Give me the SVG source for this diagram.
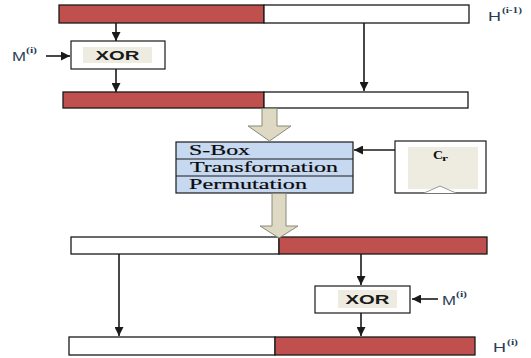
<svg xmlns="http://www.w3.org/2000/svg" width="531" height="358" viewBox="0 0 531 358">
  <defs>
    <style>
      .bar-red { fill: #c0504d; stroke: #1a1a1a; stroke-width: 1.3; }
      .bar-white { fill: #ffffff; stroke: #1a1a1a; stroke-width: 1.3; }
      .box { fill: #ffffff; stroke: #1a1a1a; stroke-width: 1.2; }
      .pad { fill: #eeece1; stroke: none; }
      .wire { stroke: #1a1a1a; stroke-width: 1.6; fill: none; marker-end: url(#tip); }
      .fat { fill: #ddd9c3; stroke: #8a8a78; stroke-width: 1; }
      .xor { font-family: "Liberation Sans", Arial, sans-serif; font-weight: bold; font-size: 13px; fill: #1a1a1a; text-anchor: middle; }
      .stage { font-family: "Liberation Serif", "Times New Roman", serif; font-size: 15px; fill: #0a0a0a; stroke: #0a0a0a; stroke-width: 0.2; }
      .lbl { font-family: "Liberation Sans", Arial, sans-serif; font-size: 12px; fill: #2a3d55; }
      .sup { font-family: "Liberation Serif", "Times New Roman", serif; font-weight: bold; font-size: 8px; fill: #2a3d55; }
    </style>
    <marker id="tip" viewBox="0 0 10 10" refX="10" refY="5" markerWidth="9" markerHeight="9" markerUnits="userSpaceOnUse" orient="auto">
      <path d="M0,0 L10,5 L0,10 z" fill="#1a1a1a"/>
    </marker>
  </defs>

  <!-- state words -->
  <g id="state-in">
    <rect class="bar-red" x="59" y="5" width="205" height="18"/>
    <rect class="bar-white" x="264" y="5" width="205" height="18"/>
  </g>
  <g id="label-h-prev">
    <text class="lbl" x="488" y="21" textLength="13" lengthAdjust="spacingAndGlyphs">H</text>
    <text class="sup" x="502" y="13" textLength="20" lengthAdjust="spacingAndGlyphs">(i-1)</text>
  </g>

  <g id="xor-top">
    <rect class="box" x="71" y="41" width="94" height="28"/>
    <rect class="pad" x="83" y="47" width="69" height="16"/>
    <text class="xor" x="117.5" y="60" textLength="44" lengthAdjust="spacingAndGlyphs">XOR</text>
  </g>
  <g id="label-m-top">
    <text class="lbl" x="12" y="61" textLength="14" lengthAdjust="spacingAndGlyphs">M</text>
    <text class="sup" x="26" y="53" textLength="11" lengthAdjust="spacingAndGlyphs">(i)</text>
  </g>

  <g id="state-mid">
    <rect class="bar-red" x="63" y="92" width="201" height="16"/>
    <rect class="bar-white" x="264" y="92" width="204" height="16"/>
  </g>

  <g id="round-function">
    <rect x="176" y="142" width="177" height="51" fill="#c6d9f1" stroke="#1a1a1a" stroke-width="1.2"/>
    <line x1="176" y1="159" x2="353" y2="159" stroke="#1a1a1a" stroke-width="1.2"/>
    <line x1="176" y1="176" x2="353" y2="176" stroke="#1a1a1a" stroke-width="1.2"/>
    <text class="stage" x="189" y="155" textLength="61" lengthAdjust="spacingAndGlyphs">S-Box</text>
    <text class="stage" x="190" y="172" textLength="148" lengthAdjust="spacingAndGlyphs">Transformation</text>
    <text class="stage" x="189" y="189" textLength="118" lengthAdjust="spacingAndGlyphs">Permutation</text>
  </g>

  <g id="round-constant">
    <rect class="box" x="395" y="141" width="91" height="52"/>
    <rect class="pad" x="408" y="147" width="70" height="42"/>
    <text x="433" y="159" font-family="Liberation Serif, Times New Roman, serif" font-weight="bold" font-size="13px" fill="#111111" textLength="10" lengthAdjust="spacingAndGlyphs">C</text>
    <text x="442" y="161" font-family="Liberation Serif, Times New Roman, serif" font-weight="bold" font-size="9px" fill="#111111" textLength="6" lengthAdjust="spacingAndGlyphs">r</text>
    <path d="M424,193 L440,186 L456,193" fill="#ffffff" stroke="#9a9a9a" stroke-width="1"/>
  </g>

  <g id="state-swapped">
    <rect class="bar-white" x="71" y="237" width="208" height="17"/>
    <rect class="bar-red" x="279" y="237" width="208" height="17"/>
  </g>

  <g id="xor-bottom">
    <rect class="box" x="315" y="286" width="95" height="27"/>
    <rect class="pad" x="338" y="290" width="59" height="18"/>
    <text class="xor" x="367.5" y="304" textLength="44" lengthAdjust="spacingAndGlyphs">XOR</text>
  </g>
  <g id="label-m-bottom">
    <text class="lbl" x="442" y="305" textLength="14" lengthAdjust="spacingAndGlyphs">M</text>
    <text class="sup" x="456" y="297" textLength="11" lengthAdjust="spacingAndGlyphs">(i)</text>
  </g>

  <g id="state-out">
    <rect class="bar-white" x="69" y="337" width="206" height="18"/>
    <rect class="bar-red" x="275" y="337" width="200" height="18"/>
  </g>
  <g id="label-h">
    <text class="lbl" x="493" y="352" textLength="13" lengthAdjust="spacingAndGlyphs">H</text>
    <text class="sup" x="507" y="345" textLength="11" lengthAdjust="spacingAndGlyphs">(i)</text>
  </g>

  <!-- connectors -->
  <g id="connectors">
    <line class="wire" x1="116" y1="23" x2="116" y2="41"/>
    <line class="wire" x1="46" y1="56" x2="70" y2="56"/>
    <line class="wire" x1="116" y1="69" x2="116" y2="92"/>
    <line class="wire" x1="364" y1="23" x2="364" y2="91"/>
    <line class="wire" x1="395" y1="150" x2="354" y2="150"/>
    <line class="wire" x1="119" y1="254" x2="119" y2="336"/>
    <line class="wire" x1="361" y1="254" x2="361" y2="285"/>
    <line class="wire" x1="438" y1="299" x2="412" y2="299"/>
    <line class="wire" x1="361" y1="313" x2="361" y2="336"/>
    <!-- hollow block arrows into and out of the round function -->
    <polygon class="fat" points="262,108.5 277,108.5 277,126 291,126 269.5,141 248,126 262,126"/>
    <polygon class="fat" points="272,193.5 286,193.5 286,226 298,226 279,238 260,226 272,226"/>
  </g>
</svg>
